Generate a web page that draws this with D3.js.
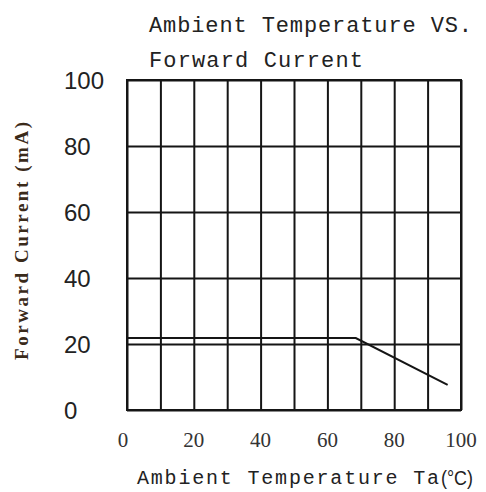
<!DOCTYPE html>
<html>
<head>
<meta charset="utf-8">
<script src="https://cdn.jsdelivr.net/npm/d3@7"></script>
<style>
  html, body { margin: 0; padding: 0; background: #fff; }
  svg { display: block; }
</style>
</head>
<body>
<svg id="chart" width="486" height="492"></svg>
<script>
// ---- data ----
const titleLines = ["Ambient Temperature VS.", "Forward Current"];
const xLabel = "Ambient Temperature Ta";
const xLabelUnit = "(°C)";
const yLabel = "Forward Current (mA)";
const xGridValues = [0, 10, 20, 30, 40, 50, 60, 70, 80, 90, 100];
const xTickLabels = [0, 20, 40, 60, 80, 100];
const yTickLabels = [0, 20, 40, 60, 80, 100];
const temperature = [0, 68.5, 96];
const forwardCurrent = [21.8, 21.8, 7.6];

// ---- drawing ----
const svg = d3.select("#chart");
const x = d3.scaleLinear().domain([0, 100]).range([127, 461]);
const y = d3.scaleLinear().domain([0, 100]).range([410, 80]);
const ink = "#151515";

// gridlines via axes
const gx = svg.append("g")
  .attr("transform", `translate(0,${y(0)})`)
  .call(d3.axisBottom(x).tickValues(xGridValues).tickSize(-(y(0) - y(100))).tickFormat(""));
gx.select(".domain").remove();
gx.selectAll("line").attr("stroke", ink).attr("stroke-width", 2);

const gy = svg.append("g")
  .attr("transform", `translate(${x(0)},0)`)
  .call(d3.axisLeft(y).tickValues(yTickLabels).tickSize(-(x(100) - x(0))).tickFormat(""));
gy.select(".domain").remove();
gy.selectAll("line").attr("stroke", ink).attr("stroke-width", 2);

// frame
svg.append("rect")
  .attr("x", x(0)).attr("y", y(100))
  .attr("width", x(100) - x(0)).attr("height", y(0) - y(100))
  .attr("fill", "none").attr("stroke", ink).attr("stroke-width", 2);

// data line
const pts = temperature.map((t, i) => [t, forwardCurrent[i]]);
svg.append("path")
  .datum(pts)
  .attr("d", d3.line().x(d => x(d[0])).y(d => y(d[1])))
  .attr("fill", "none").attr("stroke", ink).attr("stroke-width", 2);

// y tick labels (left aligned)
svg.append("g").selectAll("text")
  .data(yTickLabels).join("text")
  .attr("x", 64).attr("y", d => y(d))
  .attr("dy", "0.36em")
  .attr("font-family", "Liberation Sans, Arial, sans-serif")
  .attr("font-size", 24)
  .attr("fill", "#222")
  .text(d => d);

// x tick labels
svg.append("g").selectAll("text")
  .data(xTickLabels).join("text")
  .attr("x", d => x(d) - (d === 0 ? 4 : 0)).attr("y", 440)
  .attr("dy", "0.35em")
  .attr("text-anchor", "middle")
  .attr("font-family", "Liberation Serif, Times New Roman, serif")
  .attr("font-size", 21)
  .attr("fill", "#333")
  .text(d => d);

// title
const titleY = [32, 67];
const titleLen = [323, 214];
svg.append("g").selectAll("text")
  .data(titleLines).join("text")
  .attr("x", 149).attr("y", (d, i) => titleY[i])
  .attr("font-family", "Liberation Mono, Courier New, monospace")
  .attr("font-size", 22)
  .attr("fill", "#222")
  .attr("textLength", (d, i) => titleLen[i])
  .attr("lengthAdjust", "spacing")
  .text(d => d);

// x axis title
svg.append("text")
  .attr("x", 137).attr("y", 484)
  .attr("font-family", "Liberation Mono, Courier New, monospace")
  .attr("font-size", 20)
  .attr("fill", "#222")
  .attr("textLength", 302)
  .attr("lengthAdjust", "spacing")
  .text(xLabel);
svg.append("text")
  .attr("x", 441).attr("y", 485)
  .attr("font-family", "Liberation Sans, Arial, sans-serif")
  .attr("font-size", 21)
  .attr("fill", "#222")
  .attr("textLength", 32)
  .attr("lengthAdjust", "spacingAndGlyphs")
  .text(xLabelUnit);

// y axis title
svg.append("text")
  .attr("transform", "translate(28,241) rotate(-90)")
  .attr("text-anchor", "middle")
  .attr("font-family", "Liberation Serif, Times New Roman, serif")
  .attr("font-weight", "bold")
  .attr("font-size", 19)
  .attr("fill", "#3a2a1a")
  .attr("textLength", 238)
  .attr("lengthAdjust", "spacing")
  .text(yLabel);
</script>
</body>
</html>
